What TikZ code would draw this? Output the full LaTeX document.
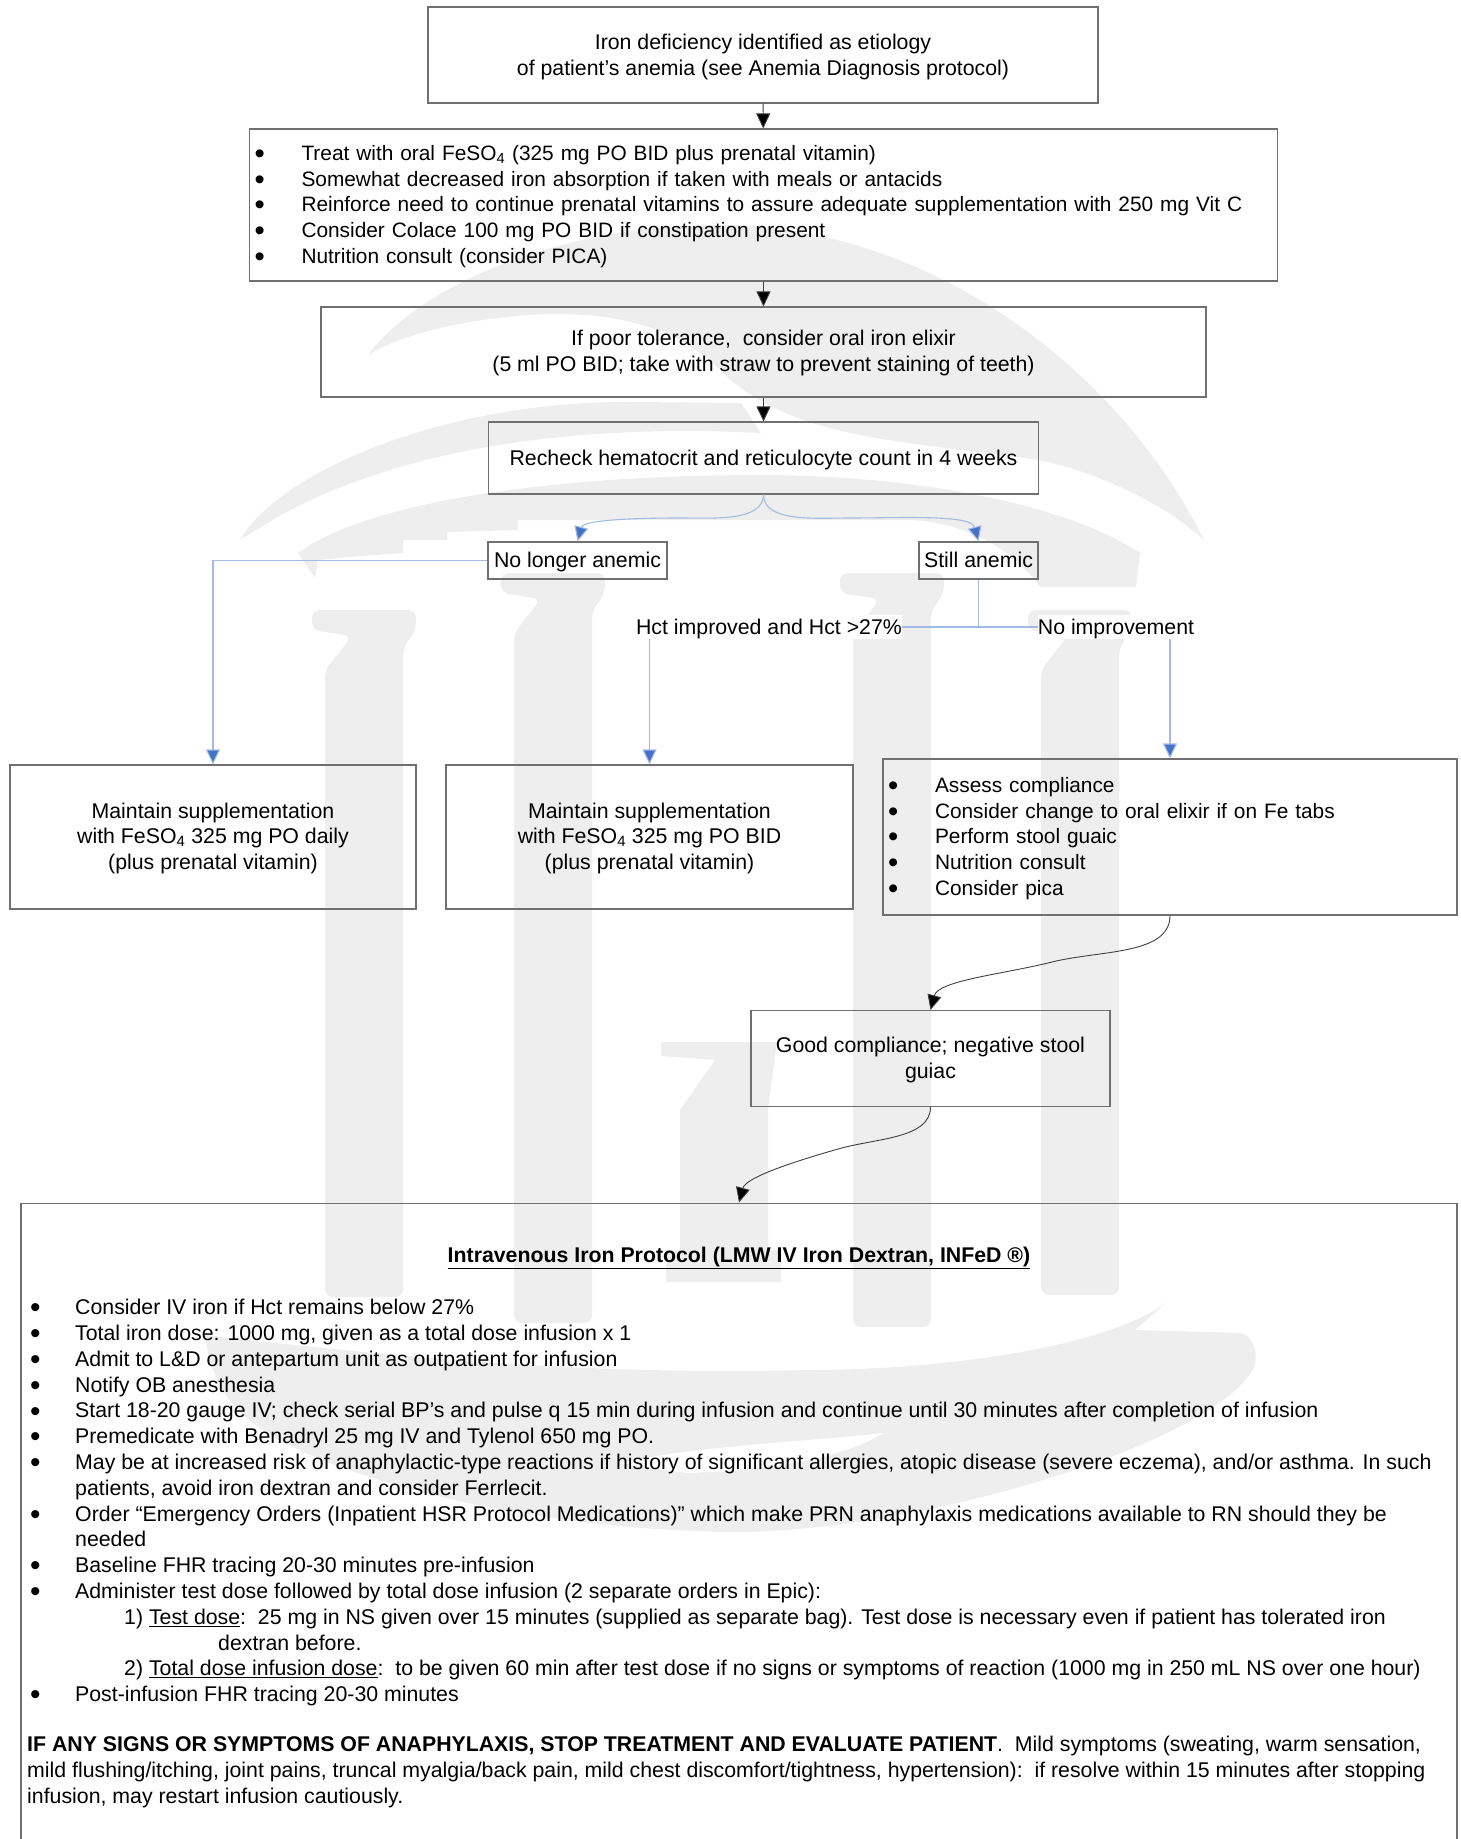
\documentclass[tikz,border=0pt]{standalone}
\usepackage{fontspec}
\setmainfont{Liberation Sans}
\usetikzlibrary{arrows.meta,positioning}

\definecolor{wmgray}{HTML}{EEEEEE}
\definecolor{edgegray}{HTML}{707070}
\definecolor{linkblue}{HTML}{A3BBE3}
\definecolor{tipblue}{HTML}{4472C4}
\newcommand{\dotmark}{\raisebox{-.15em}{\scalebox{1.4}{\textbullet}}}
\newcommand{\bul}{\makebox[43pt][l]{\hspace{-2pt}\dotmark}}
\newcommand{\bulb}{\makebox[47pt][l]{\dotmark}}
\newcommand{\lift}[1]{\rule{0pt}{#1pt}}
\newcommand{\feso}{FeSO\textsubscript{4}}

\begin{document}
\begin{tikzpicture}[x=1pt,y=-1pt,
	box/.style={draw=edgegray,line width=1.1pt,inner sep=0pt,align=center},
	oneline/.style={text height=17pt,text depth=3pt},
	smalltext/.style={font=\fontsize{20.85}{25.8}\selectfont},
	tag/.style={inner sep=0pt,fill=white,minimum height=24pt,oneline},
	blacklink/.style={draw=black!75,line width=.9pt,-{Triangle[length=15pt,width=14pt,fill=black]}},
	bluelink/.style={draw=linkblue,line width=1.1pt,-{Triangle[length=15pt,width=14pt,fill=tipblue]}},
	blueline/.style={draw=linkblue,line width=1.1pt}]
	\clip (0,0) rectangle (1460,1839);
	\fontsize{21.3}{25.8}\selectfont
	% watermark behind the chart
	\fill[wmgray] (368,355) .. controls (420,285) and (560,225) .. (720,225) .. controls (930,225) and (1120,370) .. (1204,540)
		.. controls (1160,500) and (1090,470) .. (1038,460) .. controls (900,440) and (800,440) .. (727,377)
		.. controls (680,325) and (610,310) .. (530,315) .. controls (460,320) and (400,335) .. (368,355) -- cycle;
	\fill[wmgray] (240,540) .. controls (280,470) and (450,400) .. (633,402) -- (741,403) -- (761,433)
		.. controls (600,425) and (420,440) .. (281,515) -- cycle;
	\fill[wmgray] (298,553) .. controls (370,500) and (560,475) .. (761,475) .. controls (900,475) and (1060,500) .. (1140,553)
		-- (1136,587) -- (1040,587) .. controls (1010,545) and (960,522) .. (910,520) -- (518,520) -- (518,530) -- (447,532) -- (447,540)
		-- (403,540) -- (403,553) -- (349,557) -- (318,560) -- (315,578) -- cycle;
	\foreach \cx/\ctop/\cbot in {364/610/1297,553/573/1323,892/573/1327,1080/610/1295}
		\fill[wmgray,rounded corners=8pt] ({\cx-52},\ctop) -- ({\cx+52},\ctop) -- ({\cx+52},{\ctop+20}) -- ({\cx+39},{\ctop+38}) -- ({\cx+39},\cbot)
			-- ({\cx-39},\cbot) -- ({\cx-39},{\ctop+60}) -- ({\cx-12},{\ctop+26}) -- ({\cx-52},{\ctop+20}) -- cycle;
	\fill[wmgray] (661,1042) -- (777,1042) -- (768,1110) -- (768,1250) -- (781,1250) -- (781,1282) -- (666,1282) -- (666,1250) -- (680,1250) -- (680,1110) -- (715,1060) -- (661,1056) -- cycle;
	\fill[wmgray] (1173,1297) .. controls (1120,1345) and (950,1370) .. (808,1370) .. controls (600,1375) and (420,1360) .. (205,1335)
		.. controls (215,1400) and (240,1440) .. (403,1487) .. controls (520,1520) and (650,1532) .. (741,1532)
		.. controls (930,1530) and (1220,1440) .. (1254,1367) .. controls (1260,1350) and (1250,1335) .. (1241,1333) -- (1135,1330) -- cycle;
	\fill[white] (883,1433) .. controls (830,1440) and (700,1445) .. (619,1463) -- (687,1473) .. controls (780,1470) and (850,1455) .. (883,1433) -- cycle;
	% chart boxes
	\node[box,minimum width=670pt,minimum height=96pt] (iron) at (763,55) {\lift{20}Iron deficiency identified as etiology\\of patient’s anemia (see Anemia Diagnosis protocol)};
	\node[box,smalltext,minimum width=1028pt,minimum height=152pt,text width=1018pt,align=left] (oral) at (763.5,205) {%
		\lift{18}\bulb Treat with oral \feso{} (325 mg PO BID plus prenatal vitamin)\\
		\bulb Somewhat decreased iron absorption if taken with meals or antacids\\
		\bulb Reinforce need to continue prenatal vitamins to assure adequate supplementation with 250 mg Vit C\\
		\bulb Consider Colace 100 mg PO BID if constipation present\\
		\bulb Nutrition consult (consider PICA)};
	\node[box,minimum width=885pt,minimum height=90pt] (elixir) at (763.5,352) {\lift{18}If poor tolerance,\ \ consider oral iron elixir\\(5 ml PO BID; take with straw to prevent staining of teeth)};
	\node[box,oneline,minimum width=550pt,minimum height=72pt] (recheck) at (763.5,458) {Recheck hematocrit and reticulocyte count in 4 weeks};
	\node[box,oneline,minimum width=179pt,minimum height=37pt] (nolonger) at (577.5,560.5) {No longer anemic};
	\node[box,oneline,minimum width=119pt,minimum height=37pt] (still) at (978.5,560.5) {Still anemic};
	\node[tag] (hct) at (769,627) {Hct improved and Hct >27\%};
	\node[tag] (noimp) at (1116,627) {No improvement};
	\node[box,minimum width=406pt,minimum height=144pt] (daily) at (213,837) {\lift{18}Maintain supplementation\\with \feso{} 325 mg PO daily\\(plus prenatal vitamin)};
	\node[box,minimum width=407pt,minimum height=144pt] (bid) at (649.5,837) {\lift{18}Maintain supplementation\\with \feso{} 325 mg PO BID\\(plus prenatal vitamin)};
	\node[box,smalltext,minimum width=574pt,minimum height=156pt,text width=564pt,align=left] (assess) at (1170,837) {%
		\lift{18}\bulb Assess compliance\\
		\bulb Consider change to oral elixir if on Fe tabs\\
		\bulb Perform stool guaic\\
		\bulb Nutrition consult\\
		\bulb Consider pica};
	\node[box,minimum width=359pt,minimum height=96pt] (good) at (930.5,1058.5) {\lift{18}Good compliance; negative stool\\guiac};
	\node[box,minimum width=1436pt,minimum height=680pt,anchor=north] (iv) at (739,1202.5) {};
	\node[font=\bfseries,inner sep=0pt] (ivtitle) at (739,1258) {\underline{Intravenous Iron Protocol (LMW IV Iron Dextran, INFeD ®)}};
	\node[anchor=north west,inner sep=0pt,align=left] (ivlist) at (32,1299) {%
		\bul Consider IV iron if Hct remains below 27\%\\
		\bul Total iron dose: 1000 mg, given as a total dose infusion x 1\\
		\bul Admit to L\&D or antepartum unit as outpatient for infusion\\
		\bul Notify OB anesthesia\\
		\bul Start 18-20 gauge IV; check serial BP’s and pulse q 15 min during infusion and continue until 30 minutes after completion of infusion\\
		\bul Premedicate with Benadryl 25 mg IV and Tylenol 650 mg PO.\\
		\bul May be at increased risk of anaphylactic-type reactions if history of significant allergies, atopic disease (severe eczema), and/or asthma. In such\\
		\hspace*{43pt}patients, avoid iron dextran and consider Ferrlecit.\\
		\bul Order “Emergency Orders (Inpatient HSR Protocol Medications)” which make PRN anaphylaxis medications available to RN should they be\\
		\hspace*{43pt}needed\\
		\bul Baseline FHR tracing 20-30 minutes pre-infusion\\
		\bul Administer test dose followed by total dose infusion (2 separate orders in Epic):\\
		\hspace*{92pt}1) \underline{Test dose}:\ \ 25 mg in NS given over 15 minutes (supplied as separate bag). Test dose is necessary even if patient has tolerated iron\\
		\hspace*{186pt}dextran before.\\
		\hspace*{92pt}2) \underline{Total dose infusion dose}:\ \ to be given 60 min after test dose if no signs or symptoms of reaction (1000 mg in 250 mL NS over one hour)\\
		\bul Post-infusion FHR tracing 20-30 minutes};
	\node[anchor=north west,inner sep=0pt,align=left] (ivwarn) at (27,1736) {%
		\textbf{IF ANY SIGNS OR SYMPTOMS OF ANAPHYLAXIS, STOP TREATMENT AND EVALUATE PATIENT}.\ \ Mild symptoms (sweating, warm sensation,\\
		mild flushing/itching, joint pains, truncal myalgia/back pain, mild chest discomfort/tightness, hypertension):\ \ if resolve within 15 minutes after stopping\\
		infusion, may restart infusion cautiously.};
	% connectors
	\coordinate (bendL) at (680,518);
	\coordinate (bendR) at (850,518);
	\coordinate (bendA) at (1052,962);
	\coordinate (bendB) at (838,1149);
	\draw[blacklink] (iron) -- (oral);
	\draw[blacklink] (oral) -- (elixir);
	\draw[blacklink] (elixir) -- (recheck);
	\draw[bluelink] (recheck.south) to[out=-90,in=0,out looseness=.8] (bendL) to[out=180,in=75,in looseness=.55] (nolonger.north);
	\draw[bluelink] (recheck.south) to[out=-90,in=180,out looseness=.8] (bendR) to[out=0,in=105,in looseness=.55] (still.north);
	\draw[bluelink] (nolonger.west) -| (daily.north);
	\draw[blueline] (still.south) -- (still.south |- hct.east);
	\draw[blueline] (hct.east) -- (noimp.west);
	\draw[bluelink] (hct.south -| bid.north) -- (bid.north);
	\draw[bluelink] (noimp.south -| assess.north) -- (assess.north);
	\draw[blacklink] (assess.south) to[out=-90,in=14,out looseness=.8] (bendA) to[out=194,in=75,in looseness=.6] (good.north);
	\draw[blacklink] (good.south) to[out=-90,in=16,out looseness=.8] (bendB) to[out=196,in=75,in looseness=.6] (iv.north);
\end{tikzpicture}
\end{document}
